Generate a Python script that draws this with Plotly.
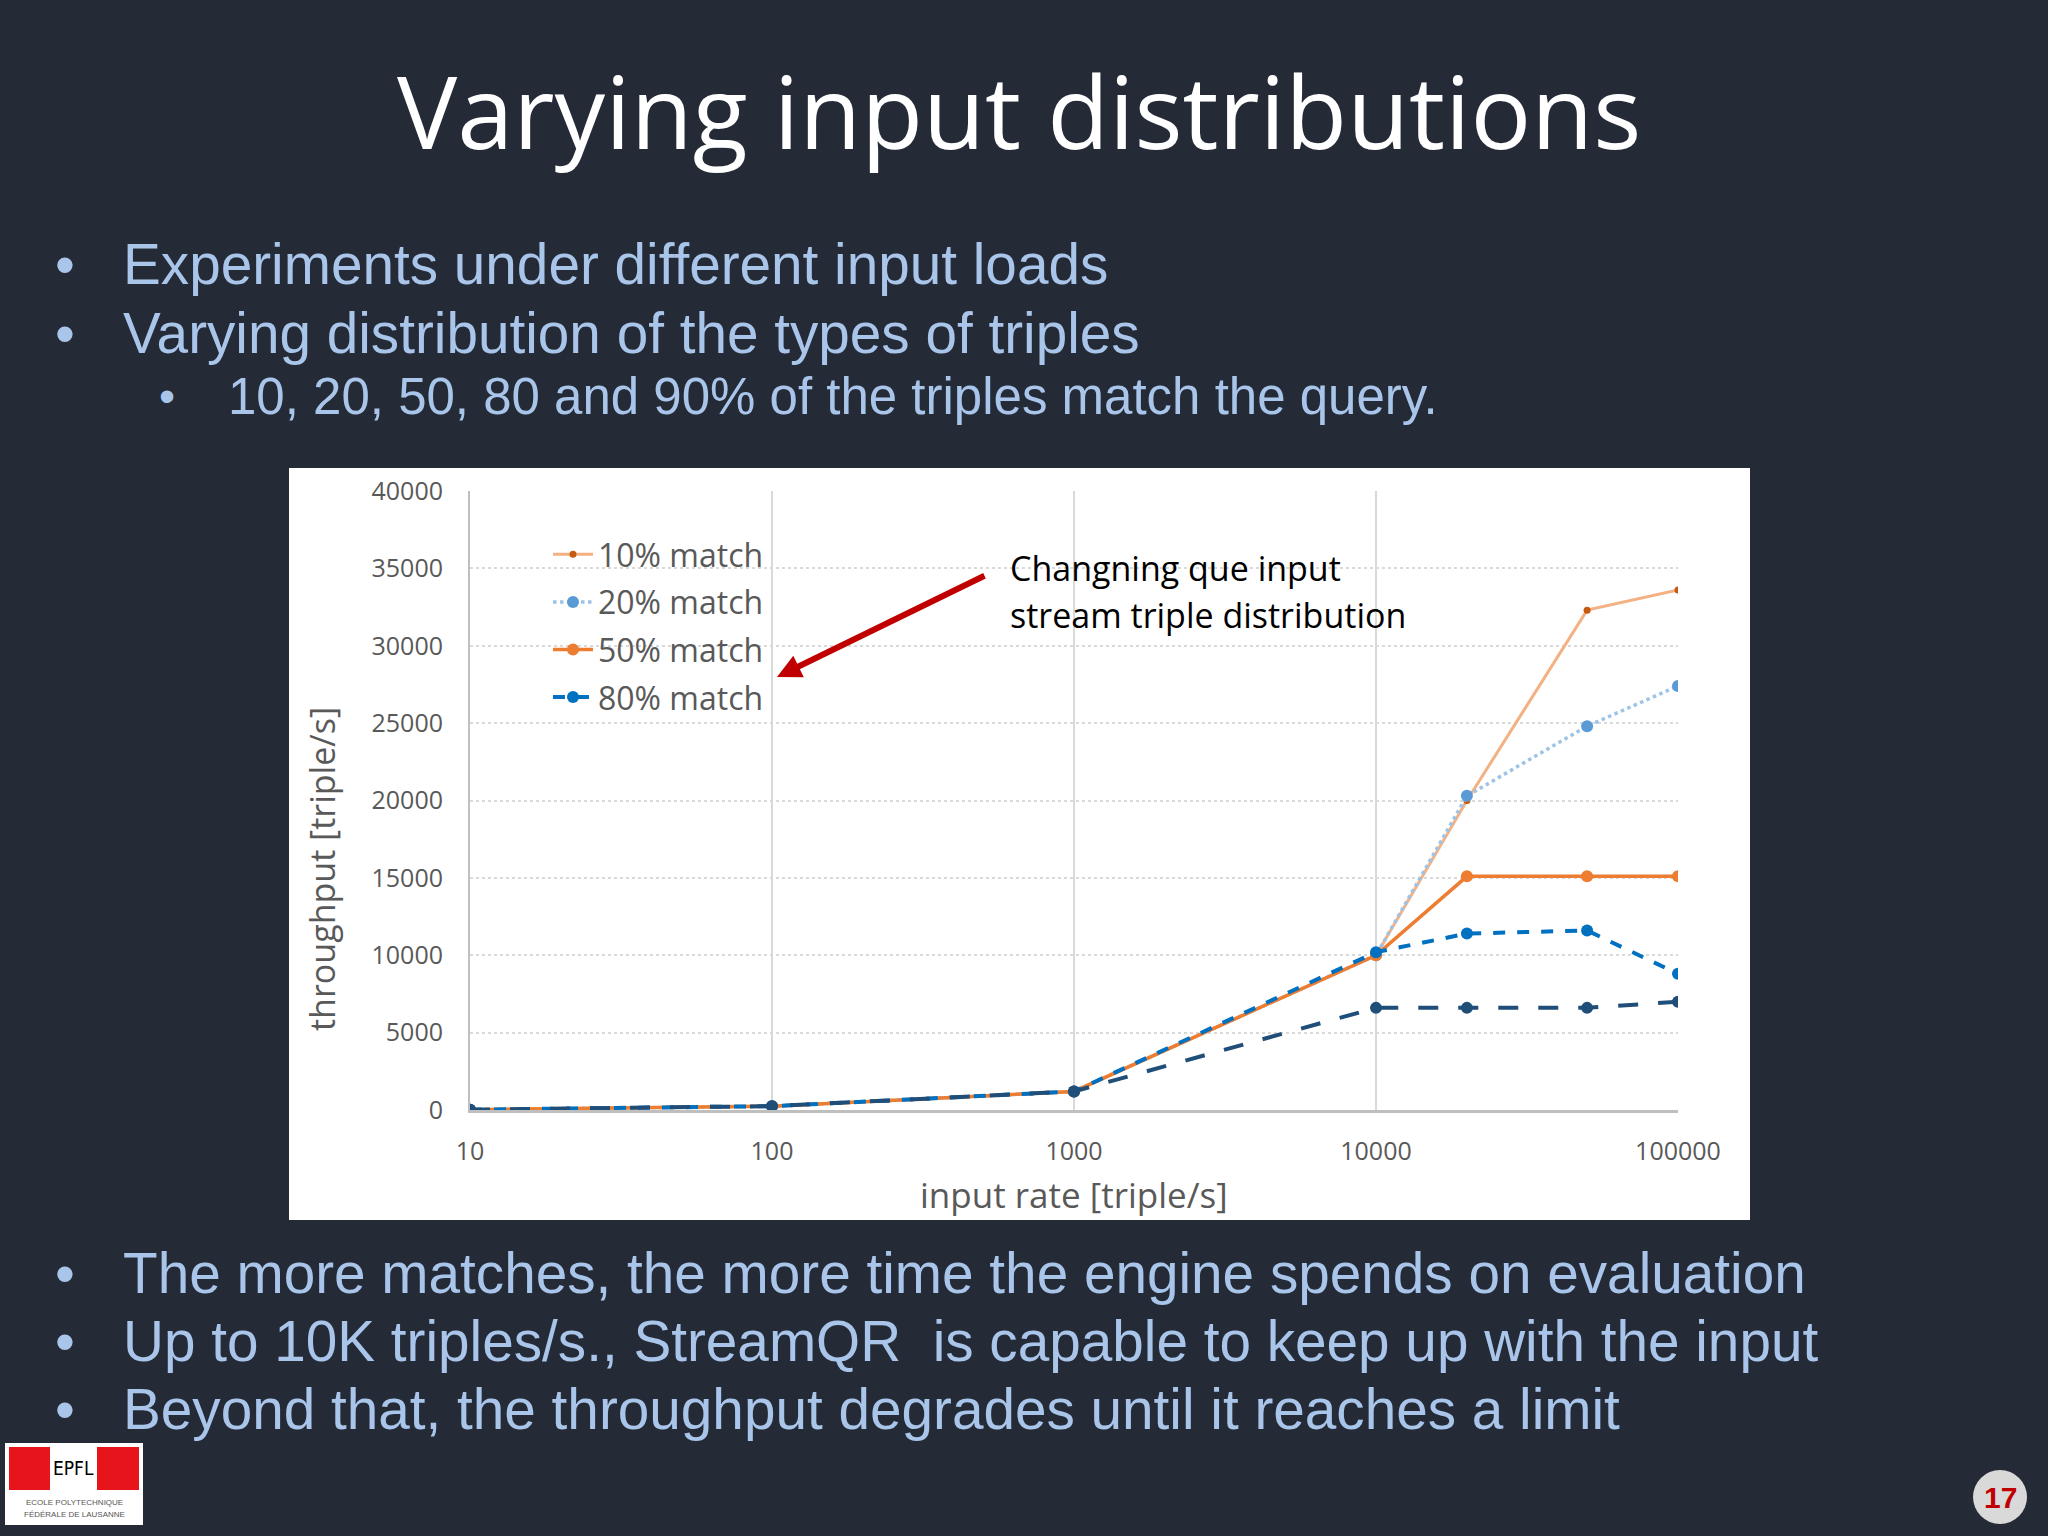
import plotly.graph_objects as go

W, H = 2048, 1536

# ---------------- data ----------------
input_rate = [10, 100, 1000, 10000, 20000, 50000, 100000]
match10 = [20, 250, 1200, 10000, 20000, 32300, 33600]
match20 = [20, 250, 1200, 10000, 20300, 24800, 27400]
match50 = [20, 250, 1200, 10000, 15100, 15100, 15100]
match80 = [20, 250, 1200, 10200, 11400, 11600, 8800]
match90 = [20, 250, 1200, 6600, 6600, 6600, 7000]
x_ticks = [10, 100, 1000, 10000, 100000]
x_ticktext = ["10", "100", "1000", "10000", "100000"]

BG = "#252a37"
TXT_BLUE = "#a9c5ea"
GRAY_TXT = "#595959"


def px(x):
    return x / W


def py(y):
    return 1 - y / H


fig = go.Figure()

series = [
    ("10% match", match10, dict(color="#f4b183", width=3), dict(color="#c55a11", size=7), True),
    ("20% match", match20, dict(color="#9dc3e6", width=3.5, dash="dot"), dict(color="#5b9bd5", size=12), True),
    ("50% match", match50, dict(color="#ed7d31", width=3.5), dict(color="#ed7d31", size=12), True),
    ("80% match", match80, dict(color="#0070c0", width=4, dash="dash"), dict(color="#0070c0", size=12), True),
    ("90% match", match90, dict(color="#1f4e79", width=4, dash="longdash"), dict(color="#1f4e79", size=12), False),
]
for name, vals, line, marker, show in series:
    fig.add_trace(go.Scatter(
        x=input_rate, y=vals, name=name, mode="lines+markers",
        line=line, marker=marker, showlegend=show, legendgroup=name,
    ))

# white chart box
shapes = [
    dict(type="rect", xref="paper", yref="paper", x0=px(289), x1=px(1750), y0=py(1220), y1=py(468),
         fillcolor="white", line=dict(width=0), layer="below"),
    # page number disc
    dict(type="circle", xref="paper", yref="paper", x0=px(1973), x1=px(2027), y0=py(1524), y1=py(1470),
         fillcolor="#d9d9d9", line=dict(width=0)),
    # EPFL logo
    dict(type="rect", xref="paper", yref="paper", x0=px(5), x1=px(143), y0=py(1525), y1=py(1443),
         fillcolor="white", line=dict(width=0)),
    dict(type="rect", xref="paper", yref="paper", x0=px(9), x1=px(50), y0=py(1490), y1=py(1447),
         fillcolor="#e8141b", line=dict(width=0)),
    dict(type="rect", xref="paper", yref="paper", x0=px(97), x1=px(139), y0=py(1490), y1=py(1447),
         fillcolor="#e8141b", line=dict(width=0)),
]

ann = []


def text(x, y, s, size, color, family="Liberation Sans, Arial", xanchor="left", yanchor="middle", **kw):
    ann.append(dict(x=px(x), y=py(y), xref="paper", yref="paper", text=s, showarrow=False,
                    xanchor=xanchor, yanchor=yanchor, font=dict(size=size, color=color, family=family), **kw))


# title
text(1019, 110, "Varying input distributions", 101, "white", family="Open Sans", xanchor="center")

# top bullets
text(65, 265, "•", 56.7, TXT_BLUE, xanchor="center")
text(121, 265, "Experiments under different input loads", 56.7, TXT_BLUE)
text(65, 333, "•", 56.7, TXT_BLUE, xanchor="center")
text(121, 333, "Varying distribution of the types of triples", 56.7, TXT_BLUE)
text(167, 396, "•", 46, TXT_BLUE, xanchor="center")
text(226, 396, "10, 20, 50, 80 and 90% of the triples match the query.", 51, TXT_BLUE)

# bottom bullets
for yy, s in [(1273, "The more matches, the more time the engine spends on evaluation"),
              (1341, "Up to 10K triples/s., StreamQR&nbsp; is capable to keep up with the input"),
              (1409, "Beyond that, the throughput degrades until it reaches a limit")]:
    text(65, yy, "•", 56.7, TXT_BLUE, xanchor="center")
    text(121, yy, s, 56.7, TXT_BLUE)

# axis titles
text(322, 869, "throughput [triple/s]", 34, GRAY_TXT, family="Open Sans", xanchor="center", textangle=-90)
text(1074, 1194, "input rate [triple/s]", 35, GRAY_TXT, family="Open Sans", xanchor="center")

# chart annotation
text(1008, 568, "Changning que input", 34, "black", family="Open Sans")
text(1008, 615, "stream triple distribution", 34, "black", family="Open Sans")
ann.append(dict(x=px(777), y=py(677), xref="paper", yref="paper", text="", showarrow=True,
                ax=209, ay=-102, arrowhead=2, arrowsize=0.8, arrowwidth=6, arrowcolor="#c00000"))

# page number
text(2000, 1497, "<b>17</b>", 30, "#c00000", xanchor="center")

# EPFL logo text
text(73, 1468, "EPFL", 19, "black", family="DejaVu Sans Condensed, DejaVu Sans", xanchor="center")
text(74, 1502, "ECOLE POLYTECHNIQUE", 8, "#555555", xanchor="center")
text(74, 1514, "FÉDÉRALE DE LAUSANNE", 8, "#555555", xanchor="center")

fig.update_layout(
    width=W, height=H, autosize=False,
    paper_bgcolor=BG, plot_bgcolor="white",
    margin=dict(l=0, r=0, t=0, b=0, pad=0, autoexpand=False),
    shapes=shapes, annotations=ann,
    showlegend=True,
    legend=dict(x=px(548), y=py(527), xanchor="left", yanchor="top",
                bgcolor="rgba(0,0,0,0)", font=dict(size=32, color=GRAY_TXT, family="Open Sans"),
                tracegroupgap=3, itemwidth=40),
    xaxis=dict(
        type="log", range=[1, 5], domain=[px(470), px(1678)],
        tickvals=x_ticks, ticktext=x_ticktext,
        showgrid=True, gridcolor="#d9d9d9", gridwidth=2,
        showline=True, linecolor="#bfbfbf", linewidth=3,
        tickfont=dict(size=25, color=GRAY_TXT, family="Open Sans"),
        ticks="", ticklabelstandoff=17, zeroline=False, automargin=False,
    ),
    yaxis=dict(
        range=[0, 40000], dtick=5000, tickformat="d", domain=[py(1110), py(491)],
        showgrid=True, gridcolor="#d9d9d9", gridwidth=2, griddash="dot",
        showline=True, linecolor="#bfbfbf", linewidth=2,
        zeroline=True, zerolinecolor="#bfbfbf", zerolinewidth=3,
        tickfont=dict(size=25, color=GRAY_TXT, family="Open Sans"),
        ticks="", ticklabelstandoff=20, automargin=False,
    ),
)

fig.write_html(
    "out.html",
    config={"responsive": False, "displayModeBar": False},
    post_script="document.body.style.margin='0';document.body.style.overflow='hidden';",
)
